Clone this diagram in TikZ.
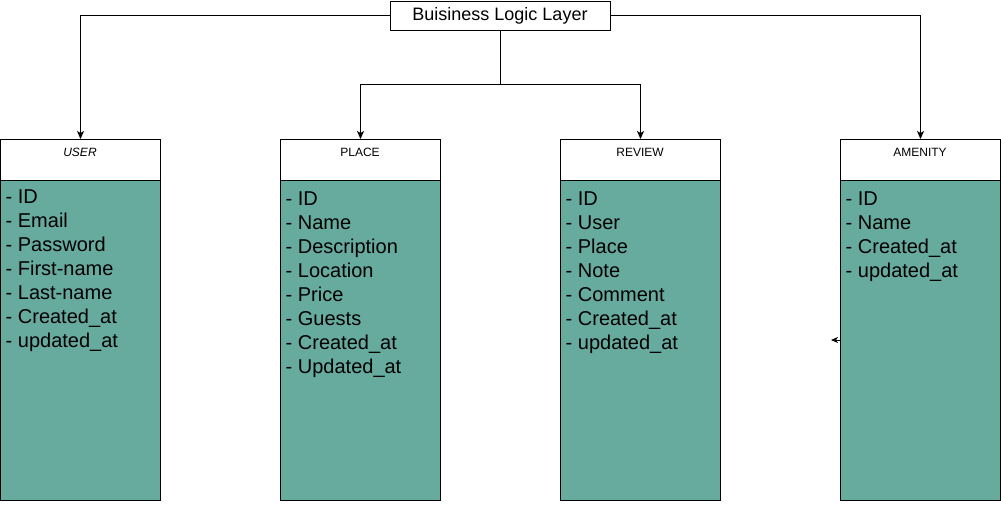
\documentclass[tikz,border=0pt]{standalone}
\usepackage{fontspec}
\setmainfont{Liberation Sans}
\usetikzlibrary{arrows.meta}
\definecolor{teal67}{HTML}{67AB9F}
\begin{document}
\begin{tikzpicture}[x=1pt,y=-1pt,
  conn/.style={draw=black,line width=1pt,-{Stealth[length=8pt,width=7pt,inset=2pt]}},
  headbox/.style={draw=black,line width=1pt,fill=white,minimum width=160pt,minimum height=41pt,inner sep=0pt,anchor=north west},
  bodybox/.style={draw=black,line width=1pt,fill=teal67,minimum width=160pt,minimum height=320pt,inner sep=0pt,anchor=north west},
  headtxt/.style={font=\fontsize{12}{14}\selectfont,inner sep=0pt},
  attrs/.style={font=\fontsize{20}{24}\selectfont,align=left,inner sep=0pt,anchor=north west}
]
\useasboundingbox (0,0) rectangle (1001,504);
% title
\node[draw=black,line width=1pt,fill=white,minimum width=220pt,minimum height=29pt,inner sep=0pt,font=\fontsize{18}{20}\selectfont] (bll) at (500,15.5) {Buisiness Logic Layer};
% boxes
\foreach \nm/\x in {user/0,place/280,review/560,amenity/840}{
  \node[bodybox] (\nm b) at (\x,180) {};
  \node[headbox] (\nm h) at (\x,139) {};
}
\node[headtxt] (usert) at (80,152) {\itshape USER};
\node[headtxt] (placet) at (360,152) {PLACE};
\node[headtxt] (reviewt) at (640,152) {REVIEW};
\node[headtxt] (amenityt) at (920,152) {AMENITY};
\node[attrs] (usera) at (5.5,190) {- ID\\- Email\\- Password\\- First-name\\- Last-name\\- Created\_at\\- updated\_at};
\node[attrs] (placea) at (285.5,192) {- ID\\- Name\\- Description\\- Location\\- Price\\- Guests\\- Created\_at\\- Updated\_at};
\node[attrs] (reviewa) at (565.5,192) {- ID\\- User\\- Place\\- Note\\- Comment\\- Created\_at\\- updated\_at};
\node[attrs] (amenitya) at (845.5,192) {- ID\\- Name\\- Created\_at\\- updated\_at};
% connectors
\coordinate (split) at (500,84);
\draw[conn] (bll.west) -| (userh.north);
\draw[conn] (bll.east) -| (amenityh.north);
\draw[line width=1pt] (bll.south) -- (split);
\draw[conn] (split) -| (placeh.north);
\draw[conn] (split) -| (reviewh.north);
\coordinate (stub) at (831,340);
\draw[conn,-{Stealth[length=7pt,width=6pt,inset=2pt]}] (840,340) -- (stub);
\end{tikzpicture}
\end{document}
